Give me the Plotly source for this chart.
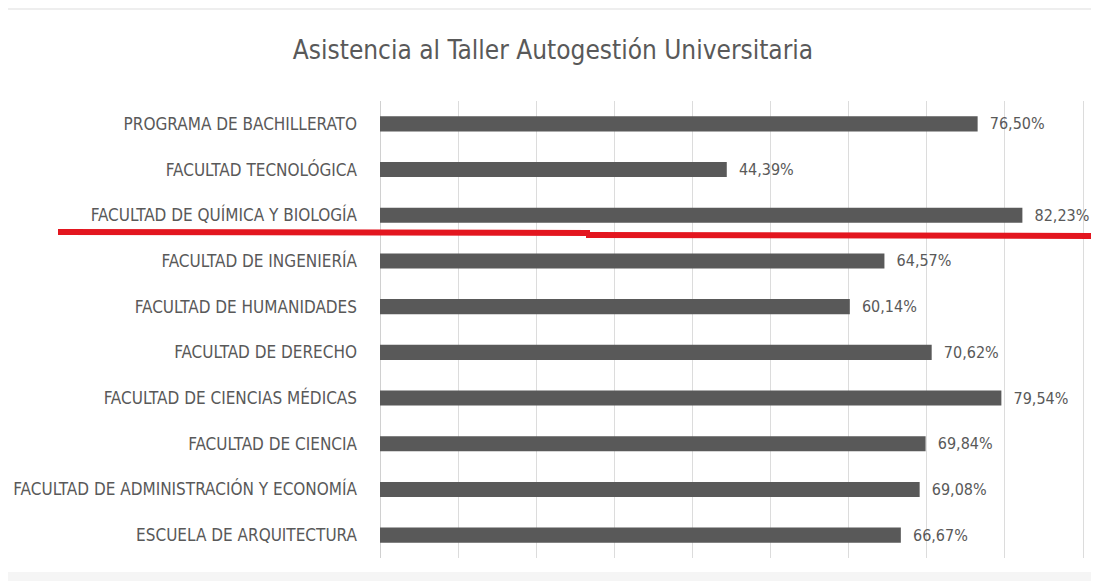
import plotly.graph_objects as go

# Data
facultades = [
    "PROGRAMA DE BACHILLERATO",
    "FACULTAD TECNOLÓGICA",
    "FACULTAD DE QUÍMICA Y BIOLOGÍA",
    "FACULTAD DE INGENIERÍA",
    "FACULTAD DE HUMANIDADES",
    "FACULTAD DE DERECHO",
    "FACULTAD DE CIENCIAS MÉDICAS",
    "FACULTAD DE CIENCIA",
    "FACULTAD DE ADMINISTRACIÓN Y ECONOMÍA",
    "ESCUELA DE ARQUITECTURA",
]
asistencia = [0.7650, 0.4439, 0.8223, 0.6457, 0.6014, 0.7062, 0.7954, 0.6984, 0.6908, 0.6667]
x_ticks = [0, 0.1, 0.2, 0.3, 0.4, 0.5, 0.6, 0.7, 0.8, 0.9]

# the page body has an 8px margin, so the figure is drawn 8px in from the corner
OFF = 8
W, H = 1099 - OFF, 581 - OFF
FONT = "Liberation Sans Narrow, DejaVu Sans Condensed, Roboto Condensed, Arial Narrow, sans-serif"
GREY = "#595959"

# plot area in screen pixels
L, R, T, B = 380, 1087, 101, 558


def px(x, y):
    # screen pixel -> paper coords
    return (x - L) / (R - L), (B - y) / (B - T)


fig = go.Figure()
fig.add_trace(go.Bar(
    x=asistencia,
    y=facultades,
    orientation="h",
    marker=dict(color=GREY, line=dict(width=0)),
    width=0.33,
    text=asistencia,
    texttemplate="  %{x:.2%}",
    textposition="outside",
    constraintext="none",
    cliponaxis=False,
    textfont=dict(family=FONT, size=16, color=GREY),
    hoverinfo="skip",
))

# red underline drawn by hand in the original
red = "#e3161f"
x0, y0 = px(58, 232)
x1, y1 = px(590, 233)
fig.add_shape(type="line", xref="paper", yref="paper", x0=x0, y0=y0, x1=x1, y1=y1,
              line=dict(color=red, width=6))
x0, y0 = px(586, 235)
x1, y1 = px(1099, 236)
fig.add_shape(type="line", xref="paper", yref="paper", x0=x0, y0=y0, x1=x1, y1=y1,
              line=dict(color=red, width=6))

# light grey bands at top and bottom of the screenshot
a0, b0 = px(0, 0)
a1, b1 = px(1099, 10)
fig.add_shape(type="rect", xref="paper", yref="paper", x0=a0, y0=b0, x1=a1, y1=b1,
              fillcolor="#eeeeee", line=dict(width=0), layer="below")
a0, b0 = px(0, 572)
a1, b1 = px(1099, 581)
fig.add_shape(type="rect", xref="paper", yref="paper", x0=a0, y0=b0, x1=a1, y1=b1,
              fillcolor="#f5f5f5", line=dict(width=0), layer="below")

fig.update_layout(
    width=W, height=H,
    margin=dict(l=L - OFF, r=1099 - R, t=T - OFF, b=581 - B, autoexpand=False),
    paper_bgcolor="white",
    plot_bgcolor="white",
    separators=",.",
    showlegend=False,
    title=dict(
        text="Asistencia al Taller Autogestión Universitaria",
        x=(553 - OFF) / W, xanchor="center", xref="container",
        y=1 - (50 - OFF) / H, yanchor="middle", yref="container",
        font=dict(family=FONT, size=26, color=GREY),
    ),
    xaxis=dict(
        range=[0, 0.905],
        tickvals=x_ticks,
        showticklabels=False,
        showgrid=True, gridcolor="#dcdcdc", gridwidth=1,
        zeroline=True, zerolinecolor="#d0d0d0", zerolinewidth=1,
        showline=False, fixedrange=True, automargin=False,
    ),
    yaxis=dict(
        autorange="reversed",
        showgrid=False, zeroline=False, showline=False,
        ticks="", ticklabelstandoff=22,
        tickfont=dict(family=FONT, size=17, color=GREY),
        fixedrange=True, automargin=False,
    ),
)

fig.write_html("out.html")
